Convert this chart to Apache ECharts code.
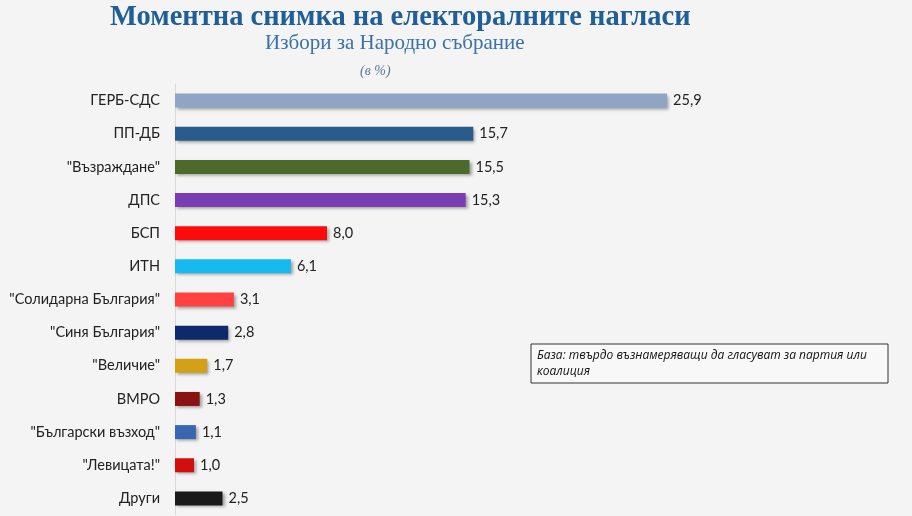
<!DOCTYPE html>
<html>
<head>
<meta charset="utf-8">
<script src="https://cdn.jsdelivr.net/npm/echarts@6/dist/echarts.min.js"></script>
<style>
  html, body { margin: 0; padding: 0; background: #f4f4f4; }
  #chart { width: 912px; height: 516px; }
</style>
</head>
<body>
<div id="chart"></div>
<script>
// data
var parties = ['ГЕРБ-СДС', 'ПП-ДБ', '"Възраждане"', 'ДПС', 'БСП', 'ИТН',
    '"Солидарна България"', '"Синя България"', '"Величие"', 'ВМРО',
    '"Български възход"', '"Левицата!"', 'Други'];
var shares = [25.9, 15.7, 15.5, 15.3, 8.0, 6.1, 3.1, 2.8, 1.7, 1.3, 1.1, 1.0, 2.5];

var barColors = ['#8ea5c5', '#295b8c', '#4b6a2b', '#7b3db2', '#ff0a0a', '#17b9f1',
    '#ff4141', '#0e2a6c', '#d3a116', '#8a1212', '#3b65b0', '#d20f0f', '#1a1a1a'];

var titleText = 'Моментна снимка на електоралните нагласи';
var subText = 'Избори за Народно събрание';
var unitText = '(в %)';
var noteText = 'База: твърдо възнамеряващи да гласуват за партия или\nкоалиция';

var chart = echarts.init(document.getElementById('chart'));

var option = {
    backgroundColor: '#f4f4f4',
    animation: false,
    grid: {
        left: 175,
        top: 84,
        width: 570,
        height: 431
    },
    xAxis: {
        type: 'value',
        min: 0,
        max: 30,
        show: false
    },
    yAxis: {
        type: 'category',
        data: parties,
        inverse: true,
        axisLine: { show: true, lineStyle: { color: '#d9d9d9', width: 1 } },
        axisTick: { show: false },
        axisLabel: {
            color: '#222',
            fontFamily: 'Lato, "Open Sans", sans-serif',
            fontSize: 14.5,
            margin: 15
        }
    },
    series: [{
        type: 'bar',
        data: shares.map(function (v, i) {
            return { value: v, itemStyle: { color: barColors[i] } };
        }),
        barWidth: 14,
        itemStyle: {
            shadowColor: 'rgba(0,0,0,0.35)',
            shadowBlur: 3,
            shadowOffsetX: 2,
            shadowOffsetY: 2
        },
        label: {
            show: true,
            position: 'right',
            distance: 6,
            color: '#222',
            fontFamily: 'Lato, "Open Sans", sans-serif',
            fontSize: 14.5,
            formatter: function (p) {
                return p.value.toFixed(1).replace('.', ',');
            }
        }
    }],
    graphic: [
        {
            type: 'text',
            x: 110,
            y: 3,
            style: {
                text: titleText,
                fill: '#1f5e96',
                font: 'bold 28.5px "Liberation Serif", serif'
            }
        },
        {
            type: 'text',
            x: 265,
            y: 33,
            style: {
                text: subText,
                fill: '#3a72a8',
                font: '21px "Liberation Serif", serif'
            }
        },
        {
            type: 'text',
            x: 360,
            y: 64,
            style: {
                text: unitText,
                fill: '#5b7896',
                font: 'italic 14px "Liberation Serif", serif'
            }
        },
        {
            type: 'rect',
            shape: { x: 531, y: 344, width: 357, height: 39 },
            style: { fill: '#f8f8f8', stroke: '#333', lineWidth: 1 }
        },
        {
            type: 'text',
            x: 537,
            y: 348,
            style: {
                text: noteText,
                fill: '#111',
                font: 'italic 12px "Open Sans", sans-serif',
                lineHeight: 16
            }
        }
    ]
};

chart.setOption(option);
</script>
</body>
</html>
